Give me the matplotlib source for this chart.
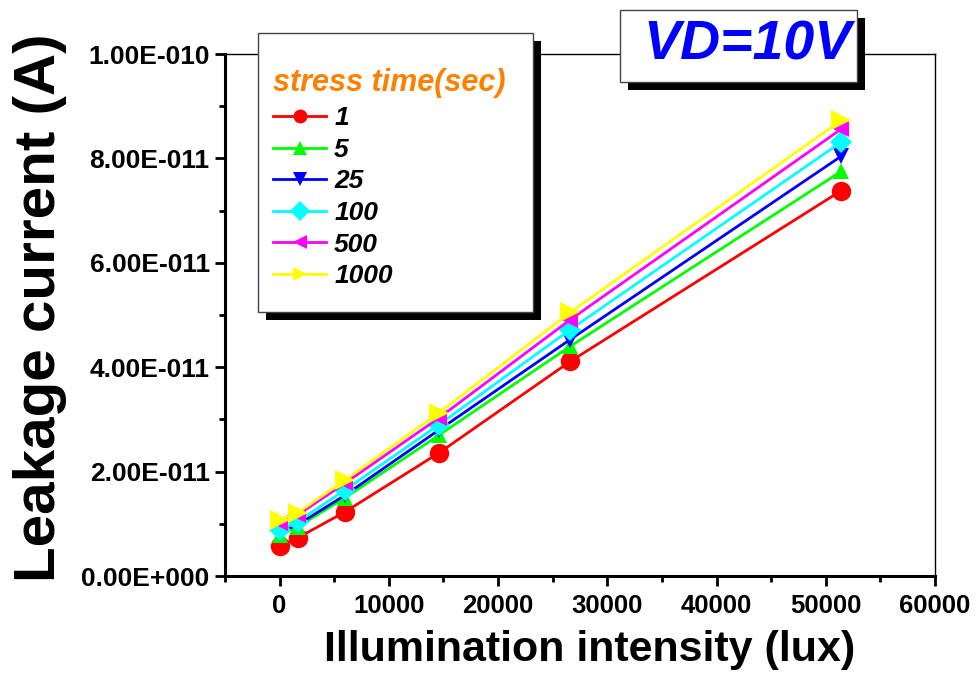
import numpy as np
import matplotlib.pyplot as plt
from matplotlib.patches import Rectangle
from matplotlib.ticker import FixedLocator, FixedFormatter, MultipleLocator

# Illumination intensity (lux)
lux = [0, 1650, 6000, 14600, 26600, 51400]

# Leakage current (A) for each stress time
stress_labels = ["1", "5", "25", "100", "500", "1000"]
i_1 = [5.8e-12, 7.3e-12, 12.3e-12, 23.6e-12, 41.1e-12, 73.8e-12]
i_5 = [7.9e-12, 9.4e-12, 15.0e-12, 27.0e-12, 44.0e-12, 77.5e-12]
i_25 = [8.3e-12, 9.8e-12, 15.5e-12, 28.0e-12, 45.3e-12, 80.4e-12]
i_100 = [8.8e-12, 10.4e-12, 16.5e-12, 29.0e-12, 47.2e-12, 83.1e-12]
i_500 = [10.2e-12, 11.7e-12, 17.8e-12, 30.3e-12, 49.1e-12, 85.6e-12]
i_1000 = [10.7e-12, 12.1e-12, 18.4e-12, 31.3e-12, 50.5e-12, 87.3e-12]

y_ticks = [0, 2e-11, 4e-11, 6e-11, 8e-11, 1e-10]
y_tick_labels = ["0.00E+000", "2.00E-011", "4.00E-011", "6.00E-011", "8.00E-011", "1.00E-010"]
x_ticks = [0, 10000, 20000, 30000, 40000, 50000, 60000]
x_tick_labels = ["0", "10000", "20000", "30000", "40000", "50000", "60000"]

series = [i_1, i_5, i_25, i_100, i_500, i_1000]
colors = ["#FF0000", "#00FF00", "#0000FF", "#00FFFF", "#FF00FF", "#FFFF00"]
markers = ["o", "^", "v", "D", "<", ">"]
msizes = [14, 12, 12, 11, 12, 14]

plt.rcParams["font.family"] = ["Liberation Sans", "DejaVu Sans"]

fig = plt.figure(figsize=(9.76, 6.77), dpi=100)
W, H = 976, 677
ax = fig.add_axes([225 / W, 1 - 576 / H, (935 - 225) / W, (576 - 54) / H])

handles = []
for ys, c, m, ms in zip(series, colors, markers, msizes):
    h, = ax.plot(lux, ys, color=c, marker=m, markersize=ms, linewidth=2,
                 markeredgewidth=0, clip_on=False)
    handles.append(h)

ax.set_xlim(-5000, 60000)
ax.set_ylim(0, 1e-10)

ax.yaxis.set_major_locator(FixedLocator(y_ticks))
ax.yaxis.set_major_formatter(FixedFormatter(y_tick_labels))
ax.yaxis.set_minor_locator(MultipleLocator(1e-11))
ax.xaxis.set_major_locator(FixedLocator(x_ticks))
ax.xaxis.set_major_formatter(FixedFormatter(x_tick_labels))
ax.xaxis.set_minor_locator(MultipleLocator(5000))

ax.tick_params(which="both", direction="out", width=2, top=False, right=False)
ax.tick_params(which="major", length=7, pad=4)
ax.tick_params(which="minor", length=4)
ax.tick_params(axis="y", labelsize=19)
ax.tick_params(axis="x", labelsize=18.5, pad=6)
for lab in ax.get_xticklabels() + ax.get_yticklabels():
    lab.set_fontweight("bold")

ax.spines["left"].set_linewidth(2.2)
ax.spines["bottom"].set_linewidth(2.2)
ax.spines["top"].set_linewidth(1)
ax.spines["right"].set_linewidth(1)

fig.text(40 / W, 1 - 308 / H, "Leakage current (A)", rotation=90, fontsize=42,
         fontweight="bold", ha="center", va="center")
fig.text(590 / W, 1 - 650 / H, "Illumination intensity (lux)", fontsize=31,
         fontweight="bold", ha="center", va="center")

# legend box with black drop shadow
fig.patches.append(Rectangle((266 / W, 1 - 320 / H), (533 - 258) / W, (312 - 33) / H,
                             transform=fig.transFigure, facecolor="black", edgecolor="none", zorder=5))
fig.patches.append(Rectangle((258 / W, 1 - 312 / H), (533 - 258) / W, (312 - 33) / H,
                             transform=fig.transFigure, facecolor="white", edgecolor="#444444",
                             linewidth=1, zorder=6))
leg = fig.legend(handles, stress_labels, loc="upper left",
                 bbox_to_anchor=(255 / W, 1 - 50 / H), frameon=False,
                 title="stress time(sec)", alignment="left",
                 handlelength=2.0, handletextpad=0.3, labelspacing=0.29,
                 borderpad=0.2,
                 prop={"size": 19, "weight": "bold", "style": "italic"},
                 title_fontproperties={"size": 22, "weight": "bold", "style": "italic"})
leg.get_title().set_color("#FF8000")
leg.set_zorder(7)
for lh in leg.legend_handles:
    lh.set_markersize(10)

# VD annotation box with drop shadow
fig.patches.append(Rectangle((628 / W, 1 - 90 / H), (857 - 620) / W, (82 - 10) / H,
                             transform=fig.transFigure, facecolor="black", edgecolor="none", zorder=5))
fig.patches.append(Rectangle((620 / W, 1 - 82 / H), (857 - 620) / W, (82 - 10) / H,
                             transform=fig.transFigure, facecolor="white", edgecolor="#444444",
                             linewidth=1, zorder=6))
fig.text(747 / W, 1 - 46 / H, "VD=10V", fontsize=40, fontweight="bold", style="italic",
         color="#0000FF", ha="center", va="center", zorder=7)

fig.savefig("out.png", dpi=100)
